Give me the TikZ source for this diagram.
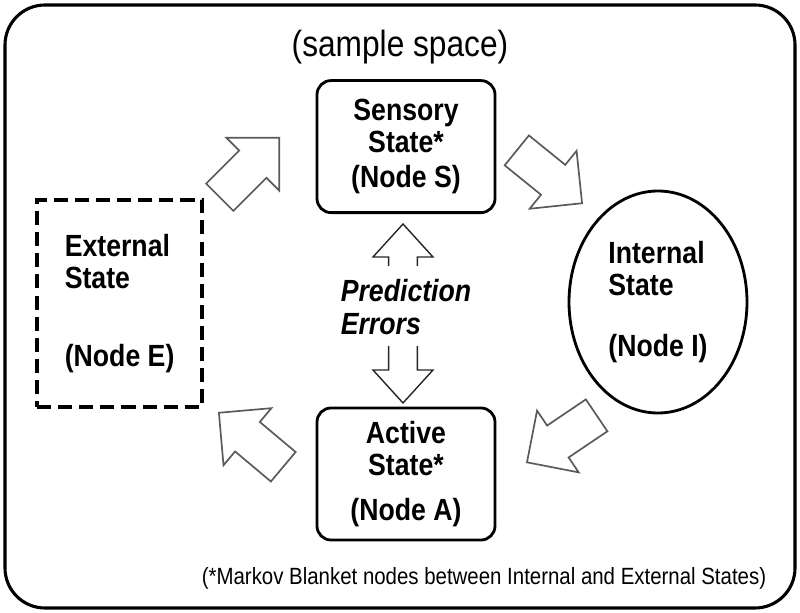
\documentclass[tikz,border=0pt]{standalone}
\usepackage{fontspec}
\setmainfont{Liberation Sans}[FakeStretch=0.87]
\usepackage{tikz}
\usetikzlibrary{positioning,calc,shapes.geometric,shapes.arrows}
\definecolor{arrowgray}{RGB}{90,90,90}

\begin{document}
\begin{tikzpicture}[
	% Outer frame (sample space)
	frame/.style={
		draw=black, line width=2.2pt, rounded corners=1cm,
		minimum width=19.75cm, minimum height=15.075cm, inner sep=0pt
	},
	% Boxes of the Markov blanket (solid, rounded)
	sbox/.style={
		draw=black, line width=2pt, rounded corners=0.35cm,
		minimum width=4.45cm, minimum height=3.3cm, align=center,
		font=\bfseries\fontsize{21.8}{23}\selectfont
	},
	% External state (dashed)
	ebox/.style={
		draw=black, line width=2.5pt, dash pattern=on 10pt off 5pt,
		minimum width=4.125cm, minimum height=5.175cm, align=left,
		font=\bfseries\fontsize{21.8}{23}\selectfont
	},
	% Internal state (ellipse)
	inode/.style={
		ellipse, draw=black, line width=2pt,
		minimum width=4.45cm, minimum height=5.55cm, inner sep=0pt, align=left,
		font=\bfseries\fontsize{21.8}{23}\selectfont
	},
	% Grey block arrows between the states
	blockarrow/.style={
		single arrow, draw=arrowgray, line width=1.2pt, fill=white,
		minimum height=2.1cm, inner xsep=0pt, inner ysep=0.46cm,
		single arrow head extend=0.45cm, single arrow tip angle=90,
		anchor=tip
	},
	% Open arrows for prediction errors
	errarrow/.style={draw=black!85, line width=1pt}
	]
	
	\useasboundingbox (0,0) rectangle (20,15.325);
	
	% --- 1. SAMPLE SPACE ---
	\node[frame] (space) at (10,7.6625) {};
	\node[font=\fontsize{25.9}{30}\selectfont] (spacelbl) at (10,14.15) {(sample space)};
	
	% --- 2. STATES ---
	\node[sbox] (sens) at (10.15,11.66) {Sensory\\State*\\[2pt](Node S)};
	\node[sbox] (act) at (10.15,3.475) {Active\\State*\\[9pt](Node A)};
	\node[ebox] (ext) at (2.99,7.74) {External\\State\\[32pt](Node E)};
	\node[inode] (int) at (16.45,7.775) {Internal\\State\\[20pt](Node I)};
	
	% --- 3. BLOCK ARROWS ---
	\node[blockarrow, rotate=45] (arrES) at (7.0,11.9) {};     % external -> sensory
	\node[blockarrow, rotate=-39] (arrSI) at (14.575,10.225) {}; % sensory -> internal
	\node[blockarrow, rotate=214] (arrIA) at (13.15,3.75) {};   % internal -> active
	\node[blockarrow, rotate=140] (arrAE) at (5.45,5.025) {};   % active -> external
	
	% --- 4. PREDICTION ERRORS ---
	\node[align=left, font=\bfseries\itshape\fontsize{21.8}{23}\selectfont] (perr) at (10.15,7.65) {Prediction\\Errors};
	
	\coordinate (peUp) at (10.075,8.675);
	\coordinate (peDown) at (10.075,6.675);
	\foreach \c/\s/\h/\t in {peUp/1/0.225/1.05, peDown/-1/0.6/1.425} {
		\draw[errarrow, shift={(\c)}]
		(-0.36,0) -- (-0.36,\s*\h) -- (-0.75,\s*\h) -- (0,\s*\t)
		-- (0.75,\s*\h) -- (0.36,\s*\h) -- (0.36,0);
	}
	
	% --- 5. NOTE ---
	\node[font=\fontsize{16.7}{19}\selectfont] (note) at (12.1,0.875) {(*Markov Blanket nodes between Internal and External States)};
\end{tikzpicture}
\end{document}
